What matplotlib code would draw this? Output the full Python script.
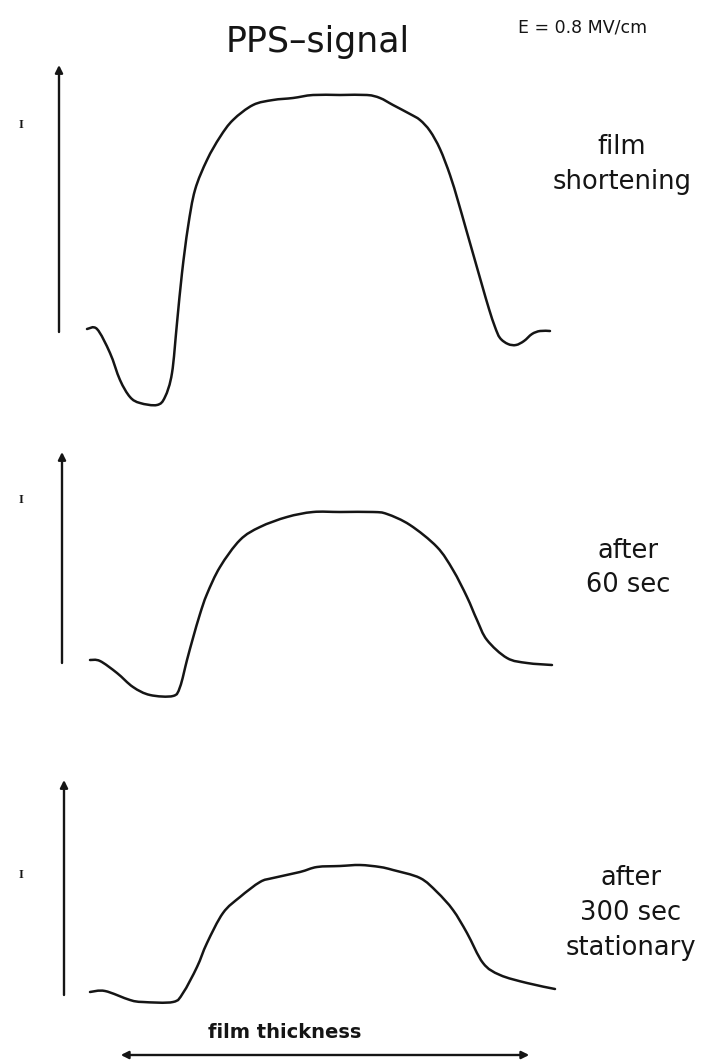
import matplotlib
matplotlib.use("Agg")
import matplotlib.pyplot as plt
import numpy as np
from matplotlib.path import Path
from matplotlib.patches import PathPatch, FancyArrowPatch

W, H = 718, 1061

# film thickness position (arbitrary units) and PPS signal (arbitrary units)
x_short = [87, 97, 110, 120, 130, 140, 157, 165, 172, 177, 182, 188, 195, 207, 220, 233,
           253, 273, 293, 313, 340, 367, 380, 393, 410, 420, 430, 440, 450, 458, 466, 474,
           482, 489, 495, 500, 508, 516, 524, 532, 540, 550]
s_short = [0, 0, -24, -51, -68, -74, -76, -68, -44, 6, 56, 102, 139, 169, 192, 209,
           224, 229, 231, 234, 234, 234, 231, 224, 215, 209, 198, 180, 154, 128, 100, 72,
           44, 20, 2, -9, -15, -16, -12, -5, -2, -2]

x_60 = [90, 100, 117, 133, 150, 173, 180, 187, 193, 200, 207, 220, 240, 260, 287, 313,
        340, 373, 387, 410, 437, 453, 467, 477, 487, 507, 527, 552]
s_60 = [0, -1, -13, -27, -35, -36, -27, 0, 22, 46, 66, 93, 120, 133, 143, 148,
        148, 148, 146, 135, 113, 90, 63, 40, 20, 2, -3, -5]

x_300 = [90, 105, 130, 143, 173, 183, 197, 207, 223, 240, 260, 273, 300, 317, 340, 360,
         380, 393, 420, 437, 453, 467, 483, 500, 527, 555]
s_300 = [0, 1, -8, -10, -10, -1, 25, 49, 79, 95, 110, 114, 120, 125, 126, 127,
         125, 122, 114, 100, 82, 59, 29, 17, 9, 3]

labels = ["film\nshortening", "after\n60 sec", "after\n300 sec\nstationary"]

INK = "#151515"

fig = plt.figure(figsize=(W / 100, H / 100), dpi=100)
fig.patch.set_facecolor("white")


def fx(px):
    return px / W


def fy(py):
    return 1 - py / H


def smooth_path(xs, ys, k=0.5):
    # cubic bezier through the points, catmull-rom style tangents
    p = np.column_stack([xs, ys]).astype(float)
    n = len(p)
    tang = np.zeros_like(p)
    tang[1:-1] = (p[2:] - p[:-2]) * k
    tang[0] = (p[1] - p[0]) * k
    tang[-1] = (p[-1] - p[-2]) * k
    verts = [p[0]]
    codes = [Path.MOVETO]
    for i in range(n - 1):
        verts += [p[i] + tang[i] / 3, p[i + 1] - tang[i + 1] / 3, p[i + 1]]
        codes += [Path.CURVE4] * 3
    return Path(verts, codes)


# panel boxes in pixels: top, bottom, baseline row, axis x, axis tip row, "I" row
panels = [
    (40, 420, 329, 59, 65, 125, x_short, s_short, (622, 164)),
    (430, 720, 660, 62, 452, 500, x_60, s_60, (628, 568)),
    (760, 1015, 992, 64, 780, 875, x_300, s_300, (631, 913)),
]

for (top, bot, base, ax_x, tip, i_row, xs, ss, lab_pos), lab in zip(panels, labels):
    ax = fig.add_axes([0, fy(bot), 1, (bot - top) / H])
    ax.set_xlim(0, W)
    ax.set_ylim(base - bot, base - top)
    ax.axis("off")
    ax.add_patch(PathPatch(smooth_path(xs, ss), fill=False, edgecolor=INK,
                           lw=1.8, capstyle="round", joinstyle="round"))
    ax.annotate("", xy=(ax_x, base - tip), xytext=(ax_x, -3),
                arrowprops=dict(arrowstyle="-|>", lw=1.7, color=INK,
                                mutation_scale=11, shrinkA=0, shrinkB=0))
    ax.text(21, base - i_row, "I", family="Liberation Serif",
            fontweight="bold", fontsize=9, ha="center", va="center", color=INK)
    fig.text(fx(lab_pos[0]), fy(lab_pos[1]), lab, ha="center", va="center",
             fontsize=18.5, linespacing=1.45, color=INK)

fig.text(fx(318), fy(42), "PPS\u2013signal", ha="center", va="center",
         fontsize=25, color=INK)
fig.text(fx(583), fy(27), "E = 0.8 MV/cm", ha="center", va="center",
         fontsize=12.5, color=INK)

# film thickness axis along the bottom
fig.text(fx(285), fy(1032), "film thickness", ha="center", va="center",
         fontsize=14, fontweight="bold", color=INK)
fig.add_artist(FancyArrowPatch(
    (fx(118), fy(1055)), (fx(532), fy(1055)), transform=fig.transFigure,
    arrowstyle="<|-|>", mutation_scale=11, lw=1.7, color=INK))

fig.savefig("out.png", dpi=100, facecolor="white")
